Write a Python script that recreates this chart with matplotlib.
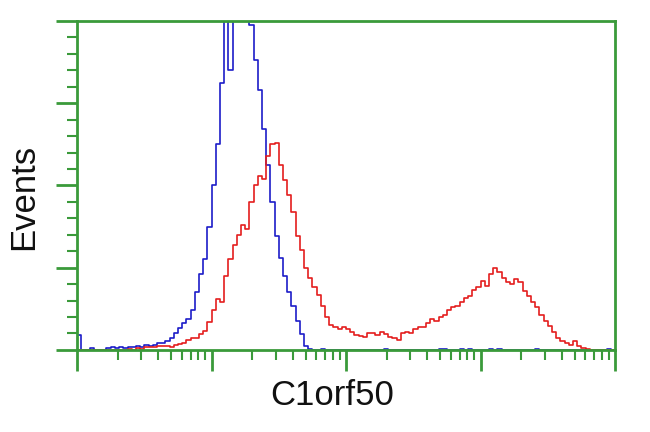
import matplotlib
matplotlib.use("Agg")
import matplotlib.pyplot as plt
import numpy as np
from matplotlib.ticker import LogLocator, MultipleLocator, NullFormatter

# histogram channels: 128 bins spread over 4 log decades (1 .. 10^4)
n_channels = 128
decades = 4

# events per channel
blue_counts = [
    18, 0, 0, 2, 0, 0, 0, 2, 3, 2, 3, 2, 4, 3, 5, 4,
    6, 5, 6, 8, 9, 11, 15, 20, 27, 33, 38, 48, 70, 92, 110, 150,
    200, 250, 325, 420, 340, 450, 480, 490, 470, 395, 352, 316, 268, 225, 180, 138,
    112, 90, 70, 53, 35, 19, 5, 1, 0, 0, 1, 0, 0, 0, 0, 0,
    0, 0, 0, 0, 0, 0, 0, 0, 0, 1, 0, 0, 0, 0, 0, 0,
    0, 0, 0, 0, 0, 0, 1, 1, 0, 0, 0, 1, 0, 1, 0, 0,
    0, 0, 1, 0, 1, 0, 0, 0, 0, 0, 0, 0, 0, 1, 0, 0,
    0, 0, 0, 0, 0, 0, 0, 0, 0, 0, 0, 0, 0, 0, 1, 0,
]
red_counts = [
    0, 0, 0, 0, 0, 0, 0, 0, 0, 0, 0, 0, 1, 0, 2, 1,
    3, 4, 4, 5, 5, 5, 4, 6, 7, 9, 12, 14, 15, 19, 23, 34,
    48, 62, 58, 90, 110, 128, 140, 152, 147, 180, 200, 212, 208, 236, 250, 252,
    225, 207, 188, 168, 138, 122, 100, 88, 76, 67, 54, 40, 30, 28, 26, 28,
    25, 22, 18, 17, 16, 20, 21, 18, 22, 19, 16, 14, 12, 20, 22, 21,
    26, 28, 28, 33, 37, 35, 40, 42, 48, 52, 54, 58, 63, 66, 73, 76,
    84, 78, 92, 100, 95, 88, 82, 80, 86, 82, 72, 65, 58, 52, 43, 35,
    29, 22, 15, 11, 8, 6, 11, 5, 2, 1, 0, 0, 0, 0, 0, 0,
]

x_label = "C1orf50"
y_label = "Events"

green = "#3a9a3a"

# channel centres on the log intensity axis
intensity = 10 ** ((np.arange(n_channels) + 0.5) * decades / n_channels)

fig = plt.figure(figsize=(6.5, 4.32), dpi=100)
ax = fig.add_axes([0.1185, 0.19, 0.8277, 0.7616])

ax.plot(intensity, blue_counts, drawstyle="steps-mid", color="#1c1cc8", lw=1.2)
ax.plot(intensity, red_counts, drawstyle="steps-mid", color="#e41e1e", lw=1.2)

ax.set_xscale("log")
ax.set_xlim(1, 10 ** decades)
ax.set_ylim(0, 400)

ax.xaxis.set_major_locator(LogLocator(base=10))
ax.xaxis.set_minor_locator(LogLocator(base=10, subs=np.arange(2, 10)))
ax.yaxis.set_major_locator(MultipleLocator(100))
ax.yaxis.set_minor_locator(MultipleLocator(20))
ax.xaxis.set_major_formatter(NullFormatter())
ax.xaxis.set_minor_formatter(NullFormatter())
ax.yaxis.set_major_formatter(NullFormatter())

ax.tick_params(which="major", direction="out", color=green, width=2, length=15)
ax.tick_params(which="minor", direction="out", color=green, width=1.5, length=7)

for s in ax.spines.values():
    s.set_color(green)
    s.set_linewidth(2)

fig.text(0.037, 0.544, y_label, rotation=90, ha="center", va="center",
         fontsize=25, family="Liberation Sans", color="#111111")
fig.text(0.511, 0.0856, x_label, ha="center", va="center",
         fontsize=25, family="Liberation Sans", color="#111111")

fig.savefig("out.png", dpi=100)
